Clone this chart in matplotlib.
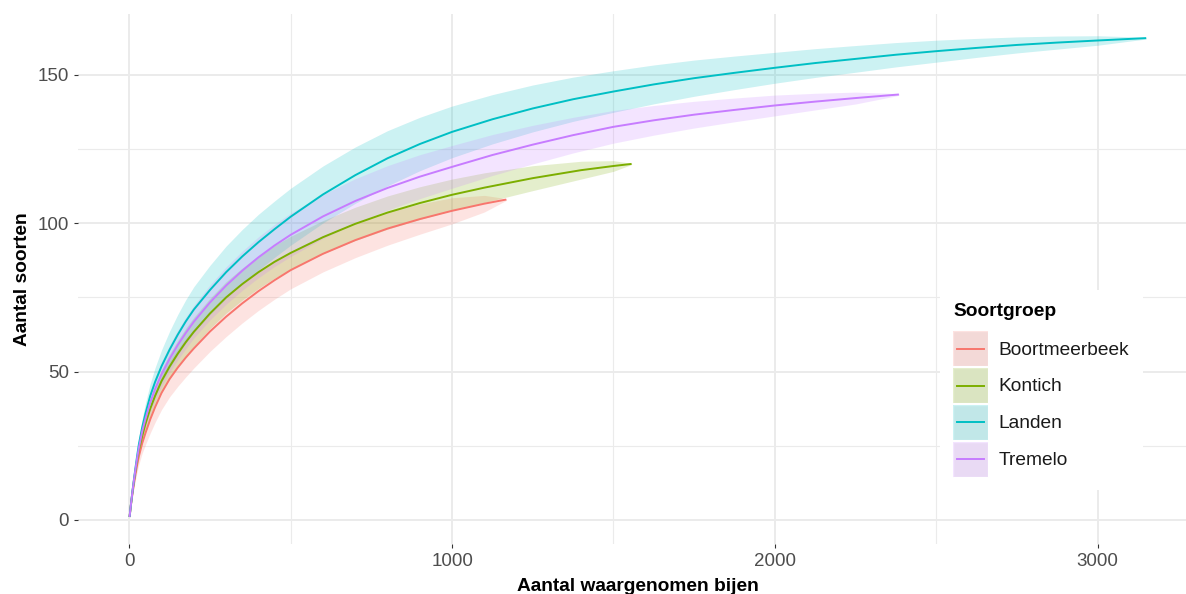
import matplotlib
matplotlib.use("Agg")
import matplotlib.pyplot as plt
from matplotlib.patches import Rectangle
from matplotlib.lines import Line2D
from matplotlib.legend_handler import HandlerBase
from matplotlib.ticker import MultipleLocator

plt.rcParams['font.family'] = ['Liberation Sans', 'DejaVu Sans']

groups = ["Boortmeerbeek", "Kontich", "Landen", "Tremelo"]
colors = ["#F8766D", "#7CAE00", "#00BFC4", "#C77CFF"]

# rarefaction curves: sample size, species, half width of the band
boort_x = [1, 5, 10, 15, 20, 25, 30, 40, 50, 65, 80, 100, 125, 150, 175, 200, 250, 300, 350,
           400, 450, 500, 600, 700, 800, 900, 1000, 1100, 1168]
boort_y = [1, 4.8, 8.9, 12.5, 15.8, 18.8, 21.5, 25.8, 29.2, 33.9, 38, 42.8, 47.5, 51.3, 54.7, 57.8,
           63.5, 68.5, 73, 77.1, 80.8, 84.2, 89.7, 94.3, 98.2, 101.4, 104.2, 106.6, 108]
boort_ci = [0, 0.4, 0.9, 1.4, 1.9, 2.3, 2.7, 3.3, 3.9, 4.6, 5.1, 5.6, 6, 6.3, 6.5, 6.6, 6.7, 6.7, 6.6,
            6.5, 6.4, 6.3, 6.1, 5.9, 5.6, 5.1, 4.4, 2.8, 0.3]

kontich_x = [1, 5, 10, 15, 20, 25, 30, 40, 50, 65, 80, 100, 125, 150, 175, 200, 250, 300, 350,
             400, 450, 500, 600, 700, 800, 900, 1000, 1100, 1250, 1400, 1500, 1556]
kontich_y = [1, 5, 9.5, 13.5, 17.2, 20.6, 23.6, 28.2, 32.3, 37.5, 41.8, 46.8, 51.7, 56, 59.9, 63.4,
             69.6, 75, 79.5, 83.5, 87, 90, 95.3, 99.8, 103.6, 106.8, 109.6, 112, 115.2, 117.9, 119.3, 120]
kontich_ci = [0, 0.3, 0.6, 0.9, 1.2, 1.5, 1.8, 2.2, 2.6, 3.1, 3.4, 3.8, 4.2, 4.5, 4.7, 4.9, 5.1, 5.3,
              5.4, 5.5, 5.5, 5.6, 5.6, 5.6, 5.6, 5.5, 5.3, 5, 4.2, 3, 1.8, 0.2]

landen_x = [1, 5, 10, 15, 20, 25, 30, 40, 50, 65, 80, 100, 125, 150, 175, 200, 250, 300, 350,
            400, 450, 500, 600, 700, 800, 900, 1000, 1125, 1250, 1375, 1500, 1625, 1750, 1875,
            2000, 2125, 2250, 2375, 2500, 2625, 2750, 2875, 3000, 3150]
landen_y = [1, 5, 9.7, 14, 18.1, 22, 25.6, 31.1, 35.8, 41.8, 46.5, 51.8, 57.4, 62.4, 66.9, 70.9,
            77.5, 83.5, 88.8, 93.6, 98, 102.2, 109.7, 116.2, 121.9, 126.7, 130.8, 135.05, 138.7,
            141.8, 144.4, 146.8, 148.9, 150.7, 152.4, 154, 155.4, 156.8, 158, 159.1, 160.1, 160.9,
            161.6, 162.4]
landen_ci = [0, 0.3, 0.8, 1.2, 1.6, 2, 2.4, 3, 3.5, 4.2, 4.8, 5.5, 6.2, 6.8, 7.3, 7.7, 8.3, 8.8,
             9.1, 9.4, 9.5, 9.6, 9.6, 9.5, 9.3, 9, 8.7, 8.3, 7.9, 7.45, 7, 6.55, 6.1, 5.65,
             5.2, 4.85, 4.5, 4.1, 3.7, 3.2, 2.7, 2.2, 1.6, 0.3]

tremelo_x = [1, 5, 10, 15, 20, 25, 30, 40, 50, 65, 80, 100, 125, 150, 175, 200, 250, 300, 350,
             400, 450, 500, 600, 700, 800, 900, 1000, 1125, 1250, 1375, 1500, 1625, 1750, 1875,
             2000, 2125, 2250, 2384]
tremelo_y = [1, 5, 9.6, 13.8, 17.6, 21.2, 24.4, 29.8, 34, 39.6, 44.1, 49.1, 54.3, 58.9, 63, 66.8,
             73.3, 79, 84, 88.5, 92.5, 96.1, 102.3, 107.5, 111.9, 115.7, 119, 123, 126.5, 129.7,
             132.5, 134.7, 136.6, 138.2, 139.7, 141, 142.2, 143.4]
tremelo_ci = [0, 0.3, 0.7, 1, 1.4, 1.7, 2, 2.5, 2.9, 3.4, 3.8, 4.2, 4.6, 5, 5.3, 5.5, 5.9, 6.3,
              6.6, 6.9, 7.1, 7.3, 7.4, 7.5, 7.5, 7.4, 7.2, 6.9, 6.5, 6, 5.5, 5, 4.5, 4,
              3.5, 2.8, 2, 0.3]

series = [
    (boort_x, boort_y, boort_ci),
    (kontich_x, kontich_y, kontich_ci),
    (landen_x, landen_y, landen_ci),
    (tremelo_x, tremelo_y, tremelo_ci),
]


class KeyHandler(HandlerBase):
    # ggplot style key: grey95 square, translucent ribbon fill, line through the middle
    def create_artists(self, legend, orig_handle, xdescent, ydescent, width, height, fontsize, trans):
        c = orig_handle.get_color()
        x0, y0 = -xdescent, -ydescent
        bg = Rectangle((x0, y0), width, height, facecolor='#F2F2F2', edgecolor='white',
                       lw=1.0, transform=trans)
        fill = Rectangle((x0, y0), width, height, facecolor=c, alpha=0.2, edgecolor='none',
                         transform=trans)
        ym = y0 + height / 2
        line = Line2D([x0 + 0.1 * width, x0 + 0.9 * width], [ym, ym], color=c, lw=1.4,
                      transform=trans)
        return [bg, fill, line]


fig = plt.figure(figsize=(11.86, 5.94), dpi=100)
ax = fig.add_axes([0.0661, 0.0842, 0.9432, 0.8926])

# ribbons first, lines on top (like the ggplot layers)
for (x, y, ci), c in zip(series, colors):
    lo = [v - d for v, d in zip(y, ci)]
    hi = [v + d for v, d in zip(y, ci)]
    ax.fill_between(x, lo, hi, color=c, alpha=0.2, lw=0, zorder=2)
for (x, y, ci), c in zip(series, colors):
    ax.plot(x, y, color=c, lw=1.4, zorder=3, solid_capstyle='butt', solid_joinstyle='round')

ax.set_xlim(-157.5, 3307.5)
ax.set_ylim(-8.1, 170.6)
ax.xaxis.set_major_locator(MultipleLocator(1000))
ax.xaxis.set_minor_locator(MultipleLocator(500))
ax.yaxis.set_major_locator(MultipleLocator(50))
ax.yaxis.set_minor_locator(MultipleLocator(25))

ax.grid(which='major', color='#EBEBEB', lw=1.4, zorder=0)
ax.grid(which='minor', color='#EBEBEB', lw=0.8, zorder=0)
ax.set_axisbelow(True)
for s in ax.spines.values():
    s.set_visible(False)

ax.tick_params(which='major', length=3.2, width=0.8, color='#333333',
               labelcolor='#4D4D4D', labelsize=13.5, pad=3.5)
ax.tick_params(which='minor', length=0)

ax.set_xlabel("Aantal waargenomen bijen", fontsize=13.8, fontweight='bold', labelpad=5.5)
ax.set_ylabel("Aantal soorten", fontsize=13.8, fontweight='bold', labelpad=5)

handles = [Line2D([], [], color=c) for c in colors]
leg = fig.legend(handles, groups, loc='upper left',
                 bbox_to_anchor=(940 / 1186, 1 - 290 / 594),
                 bbox_transform=fig.transFigure,
                 handler_map={Line2D: KeyHandler()},
                 title="Soortgroep", title_fontproperties={'weight': 'bold', 'size': 13.8},
                 alignment='left', fontsize=13.8, frameon=True, fancybox=False,
                 facecolor='white', edgecolor='none', framealpha=1,
                 handlelength=1.82, handleheight=2.43, labelspacing=0.1,
                 handletextpad=0.57, borderpad=0.68, borderaxespad=0)
leg._legend_box.sep = 8
for t in leg.get_texts():
    t.set_color('#1A1A1A')

fig.savefig("out.png", dpi=100)
